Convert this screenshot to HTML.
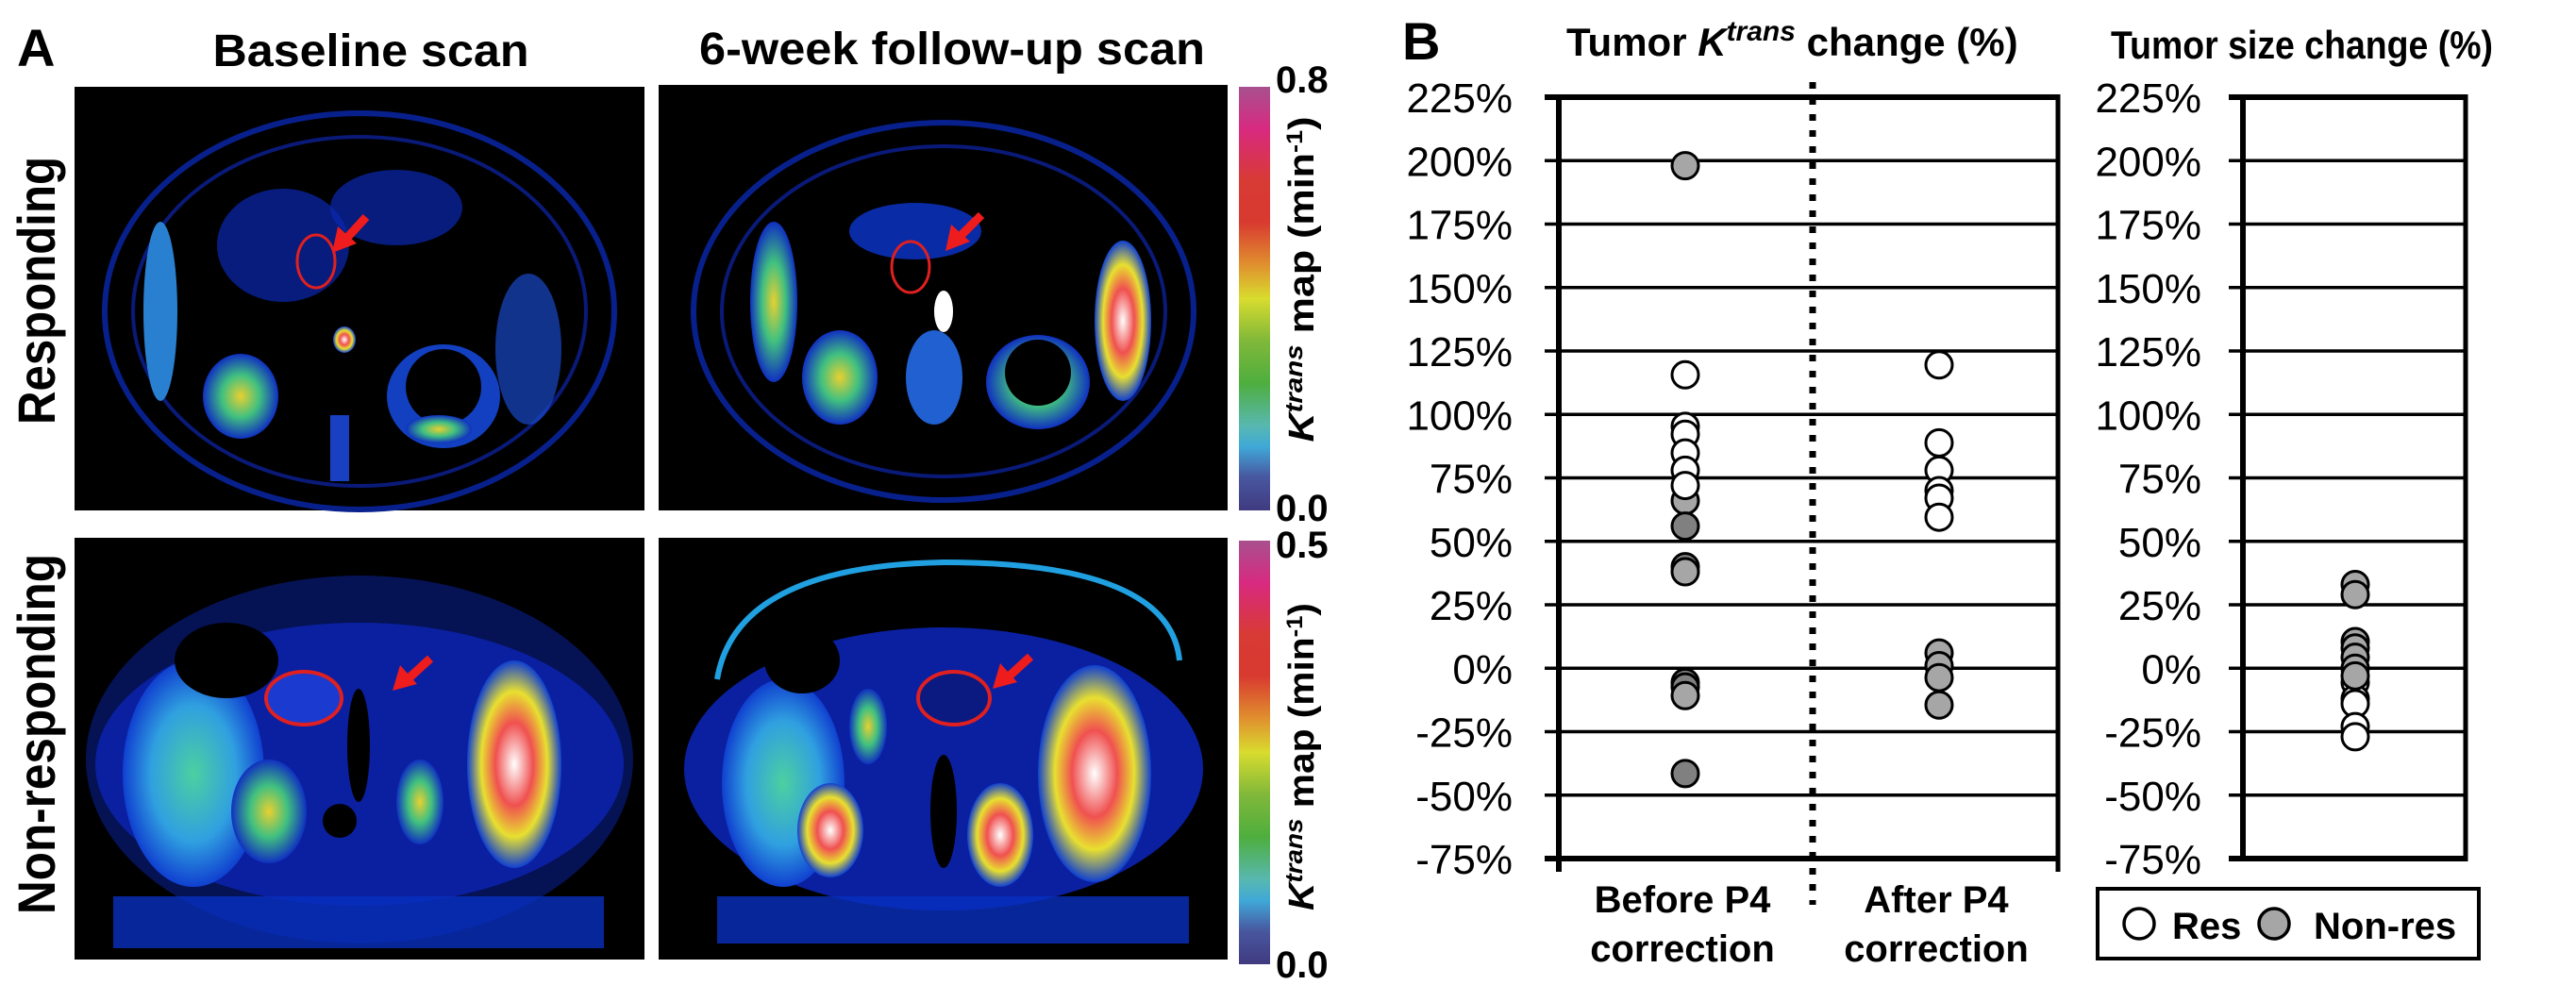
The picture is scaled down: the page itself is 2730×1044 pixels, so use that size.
<!DOCTYPE html>
<html><head><meta charset="utf-8">
<style>
html,body{margin:0;padding:0;background:#fff;}
svg{display:block;}
.cond{font-family:"Liberation Sans Narrow","Liberation Sans",sans-serif;font-weight:bold;}
.bold{font-family:"Liberation Sans",sans-serif;font-weight:bold;}
.tick{font-family:"Liberation Sans",sans-serif;font-size:44px;}
</style></head>
<body>
<svg id="fig" width="2730" height="1044" viewBox="0 0 2730 1044" xmlns="http://www.w3.org/2000/svg">
<defs>
<linearGradient id="cbar" x1="0" y1="0" x2="0" y2="1">
<stop offset="0" stop-color="#a8508f"/>
<stop offset="0.1" stop-color="#d82a80"/>
<stop offset="0.22" stop-color="#d83a35"/>
<stop offset="0.32" stop-color="#d83a30"/>
<stop offset="0.42" stop-color="#e0902e"/>
<stop offset="0.5" stop-color="#d8dc2e"/>
<stop offset="0.6" stop-color="#80b83a"/>
<stop offset="0.7" stop-color="#4eae3e"/>
<stop offset="0.8" stop-color="#58b8b0"/>
<stop offset="0.85" stop-color="#40a8d8"/>
<stop offset="0.92" stop-color="#4858a0"/>
<stop offset="1" stop-color="#403a80"/>
</linearGradient>
<radialGradient id="liver" cx="0.5" cy="0.5" r="0.5">
<stop offset="0" stop-color="#4cd0a0"/><stop offset="0.6" stop-color="#30a0e0"/><stop offset="1" stop-color="#1040d0"/>
</radialGradient>
<radialGradient id="hot" cx="0.5" cy="0.5" r="0.5">
<stop offset="0" stop-color="#ffffff"/><stop offset="0.4" stop-color="#f05050"/><stop offset="0.7" stop-color="#e8e030"/><stop offset="1" stop-color="#1040d0"/>
</radialGradient>
<radialGradient id="warm" cx="0.5" cy="0.5" r="0.5">
<stop offset="0" stop-color="#e8d030"/><stop offset="0.5" stop-color="#40c080"/><stop offset="1" stop-color="#1030c0"/>
</radialGradient>
</defs>

<!-- Panel A -->
<g>
<text x="18" y="70" class="bold" font-size="56">A</text>
<text x="393" y="70" class="cond" font-size="48" text-anchor="middle" textLength="335" lengthAdjust="spacingAndGlyphs">Baseline scan</text>
<text x="1009" y="68" class="cond" font-size="48" text-anchor="middle" textLength="536" lengthAdjust="spacingAndGlyphs">6-week follow-up scan</text>
<text transform="translate(58,308) rotate(-90)" class="bold" font-size="56" text-anchor="middle" textLength="284" lengthAdjust="spacingAndGlyphs">Responding</text>
<text transform="translate(58,778) rotate(-90)" class="bold" font-size="56" text-anchor="middle" textLength="382" lengthAdjust="spacingAndGlyphs">Non-responding</text>

<!-- Responding baseline -->
<g>
<rect x="79" y="92" width="604" height="449" fill="#000"/>
<ellipse cx="381" cy="330" rx="270" ry="210" fill="none" stroke="#08208c" stroke-width="6"/>
<ellipse cx="381" cy="330" rx="240" ry="185" fill="none" stroke="#0a1a78" stroke-width="4"/>
<ellipse cx="170" cy="330" rx="18" ry="95" fill="#2a80d0"/>
<ellipse cx="300" cy="260" rx="70" ry="60" fill="#0a28b0" opacity="0.7"/>
<ellipse cx="420" cy="220" rx="70" ry="40" fill="#0a28b0" opacity="0.7"/>
<ellipse cx="560" cy="370" rx="35" ry="80" fill="#1848c8" opacity="0.7"/>
<ellipse cx="255" cy="420" rx="40" ry="45" fill="url(#warm)"/>
<ellipse cx="470" cy="420" rx="60" ry="55" fill="#1240c0"/>
<ellipse cx="470" cy="410" rx="40" ry="40" fill="#000"/>
<ellipse cx="465" cy="455" rx="35" ry="15" fill="url(#warm)"/>
<ellipse cx="365" cy="360" rx="12" ry="14" fill="url(#hot)"/>
<rect x="350" y="440" width="20" height="70" fill="#1840c0"/>
<ellipse cx="335" cy="277" rx="20" ry="28" fill="none" stroke="#e02020" stroke-width="3"/>
<line x1="388" y1="230" x2="366" y2="254" stroke="#ee1c1c" stroke-width="9"/>
<polygon points="352,268 358,240 378,258" fill="#ee1c1c"/>
</g>
<!-- Responding follow-up -->
<g>
<rect x="698" y="90" width="603" height="451" fill="#000"/>
<ellipse cx="1000" cy="330" rx="265" ry="200" fill="none" stroke="#08208c" stroke-width="6"/>
<ellipse cx="1000" cy="330" rx="235" ry="175" fill="none" stroke="#0a1a78" stroke-width="4"/>
<ellipse cx="820" cy="320" rx="25" ry="85" fill="url(#warm)"/>
<ellipse cx="1190" cy="340" rx="30" ry="85" fill="url(#hot)"/>
<ellipse cx="890" cy="400" rx="40" ry="50" fill="url(#warm)"/>
<ellipse cx="1100" cy="405" rx="55" ry="50" fill="url(#warm)"/>
<ellipse cx="1100" cy="395" rx="35" ry="35" fill="#000"/>
<ellipse cx="990" cy="400" rx="30" ry="50" fill="#2060d0"/>
<ellipse cx="1000" cy="330" rx="10" ry="22" fill="#fff"/>
<ellipse cx="970" cy="245" rx="70" ry="30" fill="#0a30b8" opacity="0.9"/>
<ellipse cx="965" cy="283" rx="20" ry="27" fill="none" stroke="#e02020" stroke-width="3"/>
<line x1="1040" y1="228" x2="1016" y2="252" stroke="#ee1c1c" stroke-width="9"/>
<polygon points="1002,266 1008,238 1028,256" fill="#ee1c1c"/>
</g>
<!-- Non-responding baseline -->
<g>
<rect x="79" y="570" width="604" height="447" fill="#000"/>
<ellipse cx="381" cy="805" rx="290" ry="195" fill="#0a24a8" opacity="0.5"/>
<ellipse cx="381" cy="810" rx="280" ry="150" fill="#0a20a0"/>
<ellipse cx="205" cy="820" rx="75" ry="120" fill="url(#liver)"/>
<ellipse cx="285" cy="860" rx="40" ry="55" fill="url(#warm)"/>
<ellipse cx="545" cy="810" rx="50" ry="110" fill="url(#hot)"/>
<ellipse cx="445" cy="850" rx="25" ry="45" fill="url(#warm)"/>
<ellipse cx="240" cy="700" rx="55" ry="40" fill="#000"/>
<ellipse cx="380" cy="790" rx="12" ry="60" fill="#000"/>
<ellipse cx="360" cy="870" rx="18" ry="18" fill="#000"/>
<rect x="120" y="950" width="520" height="55" fill="#0830c0" opacity="0.8"/>
<ellipse cx="322" cy="740" rx="40" ry="28" fill="#1a3ad0" stroke="#e02020" stroke-width="4"/>
<line x1="456" y1="698" x2="432" y2="720" stroke="#ee1c1c" stroke-width="9"/>
<polygon points="416,732 424,705 442,725" fill="#ee1c1c"/>
</g>
<!-- Non-responding follow-up -->
<g>
<rect x="698" y="570" width="603" height="447" fill="#000"/>
<path d="M 760 720 Q 780 600 1000 596 Q 1240 596 1250 700" fill="none" stroke="#20a0e0" stroke-width="6"/>
<ellipse cx="1000" cy="815" rx="275" ry="150" fill="#0a20a0"/>
<ellipse cx="830" cy="830" rx="65" ry="110" fill="url(#liver)"/>
<ellipse cx="880" cy="880" rx="35" ry="50" fill="url(#hot)"/>
<ellipse cx="1060" cy="885" rx="35" ry="55" fill="url(#hot)"/>
<ellipse cx="1160" cy="820" rx="60" ry="115" fill="url(#hot)"/>
<ellipse cx="920" cy="770" rx="20" ry="40" fill="url(#warm)"/>
<ellipse cx="1000" cy="860" rx="14" ry="60" fill="#000"/>
<ellipse cx="850" cy="700" rx="40" ry="35" fill="#000"/>
<rect x="760" y="950" width="500" height="50" fill="#0830c0" opacity="0.8"/>
<ellipse cx="1011" cy="740" rx="38" ry="28" fill="#0a1a80" stroke="#e02020" stroke-width="4"/>
<line x1="1092" y1="696" x2="1068" y2="718" stroke="#ee1c1c" stroke-width="9"/>
<polygon points="1052,730 1060,703 1078,723" fill="#ee1c1c"/>
</g>

<!-- Colorbars -->
<rect x="1313" y="92" width="33" height="449" fill="url(#cbar)"/>
<rect x="1313" y="573" width="33" height="449" fill="url(#cbar)"/>
<text x="1352" y="98" class="cond" font-size="40">0.8</text>
<text x="1352" y="552" class="cond" font-size="40">0.0</text>
<text x="1352" y="591" class="cond" font-size="40">0.5</text>
<text x="1352" y="1036" class="cond" font-size="40">0.0</text>
<text transform="translate(1392,296) rotate(-90)" class="bold" font-size="38" text-anchor="middle" textLength="345" lengthAdjust="spacingAndGlyphs"><tspan font-style="italic">K</tspan><tspan font-style="italic" font-size="26" dy="-12">trans</tspan><tspan dy="12"> map (min</tspan><tspan font-size="24" dy="-12">-1</tspan><tspan dy="12">)</tspan></text>
<text transform="translate(1392,802) rotate(-90)" class="bold" font-size="38" text-anchor="middle" textLength="326" lengthAdjust="spacingAndGlyphs"><tspan font-style="italic">K</tspan><tspan font-style="italic" font-size="26" dy="-12">trans</tspan><tspan dy="12"> map (min</tspan><tspan font-size="24" dy="-12">-1</tspan><tspan dy="12">)</tspan></text>
</g>

<!-- Panel B -->
<g id="panelB">
<text x="1486" y="63" class="bold" font-size="56">B</text>
<text x="1660" y="59" class="bold" font-size="42">Tumor <tspan font-style="italic">K</tspan><tspan font-style="italic" font-size="30" dy="-16">trans</tspan><tspan dy="16"> change (%)</tspan></text>
<text x="2237" y="62" class="bold" font-size="42" textLength="405" lengthAdjust="spacingAndGlyphs">Tumor size change (%)</text>
<g id="chart1"></g>
<g id="chart2"></g>
<text x="1783" y="967" class="bold" font-size="40" text-anchor="middle">Before P4</text>
<text x="1783" y="1019" class="bold" font-size="40" text-anchor="middle">correction</text>
<text x="2052" y="967" class="bold" font-size="40" text-anchor="middle">After P4</text>
<text x="2052" y="1019" class="bold" font-size="40" text-anchor="middle">correction</text>
<g>
<rect x="2223" y="942" width="404" height="74" fill="#fff" stroke="#000" stroke-width="4"/>
<circle cx="2267" cy="979" r="16" fill="#fff" stroke="#000" stroke-width="3.5"/>
<text x="2302" y="995" class="bold" font-size="40">Res</text>
<circle cx="2410" cy="979" r="16" fill="#a6a6a6" stroke="#000" stroke-width="3.5"/>
<text x="2452" y="995" class="bold" font-size="40">Non-res</text>
</g>
</g>

<script>
const ticks = [225,200,175,150,125,100,75,50,25,0,-25,-50,-75];
const tickLabels = ["225%","200%","175%","150%","125%","100%","75%","50%","25%","0%","-25%","-50%","-75%"];
const beforeRes = [115.6,95.3,92.2,84.8,78,72];
const beforeNon = [198,66,56,40,38,-5.6,-7.4,-10.8,-41.5];
const beforeNonShade = ["l","l","d","d","l","d","d","l","d"];
const afterRes = [119.5,88.8,78,70,67,59.5];
const afterNon = [6,1,-3.7,-14.5];
const sizeNon = [33,29,10.5,8,4.3,0,-3];
const sizeRes = [-5.6,-12,-14,-23,-27];

const NS = "http://www.w3.org/2000/svg";
const yTop = 103, pxPer = 2.69, vMax = 225;
function yScale(v){ return yTop + (vMax - v) * pxPer; }
function mk(tag, attrs, parent){
  const e = document.createElementNS(NS, tag);
  for (const k in attrs) e.setAttribute(k, attrs[k]);
  parent.appendChild(e);
  return e;
}
function drawAxes(g, x0, x1, labelRight, divider){
  ticks.forEach((t,i)=>{
    const y = yScale(t);
    const gl = mk("line",{x1:x0-15,x2:x1,y1:y,y2:y,stroke:"#000","stroke-width":(i===0||i===ticks.length-1)?6:3.5},g);
    
    
    const tl = mk("text",{x:labelRight,y:y+16,"text-anchor":"end",class:"tick"},g);
    tl.textContent = tickLabels[i];
    
    
  });
  const bot = yScale(ticks[ticks.length-1]);
  const la = mk("line",{x1:x0,x2:x0,y1:yScale(ticks[0])-3,y2:bot+(divider?14:3),stroke:"#000","stroke-width":6},g);
  
  
  const ra = mk("line",{x1:x1,x2:x1,y1:yScale(ticks[0])-3,y2:bot+(divider?14:3),stroke:"#000","stroke-width":5},g);
  
  
}
function drawPts(g, x, vals, fill, shades){
  vals.forEach((v,i)=>{
    let f = fill;
    if (shades) f = shades[i]==="d" ? "#808080" : "#a6a6a6";
    const c = mk("circle",{cx:x,cy:yScale(v),r:14,fill:f,stroke:"#000","stroke-width":3},g);
    
    
  });
}
const g1 = document.getElementById("chart1");
drawAxes(g1, 1652, 2181, 1603, true);
const dv = mk("line",{x1:1921,x2:1921,y1:87,y2:959,stroke:"#000","stroke-width":7,"stroke-dasharray":"7 10"},g1);


drawPts(g1, 1786, beforeNon, "#a6a6a6", beforeNonShade);
drawPts(g1, 1786, beforeRes, "#fff");
drawPts(g1, 2055, afterRes, "#fff");
drawPts(g1, 2055, afterNon, "#a6a6a6");
const g2 = document.getElementById("chart2");
drawAxes(g2, 2377, 2613, 2333, false);
drawPts(g2, 2496, sizeRes, "#fff");
drawPts(g2, 2496, sizeNon, "#a6a6a6");
</script>
</svg>
</body></html>
